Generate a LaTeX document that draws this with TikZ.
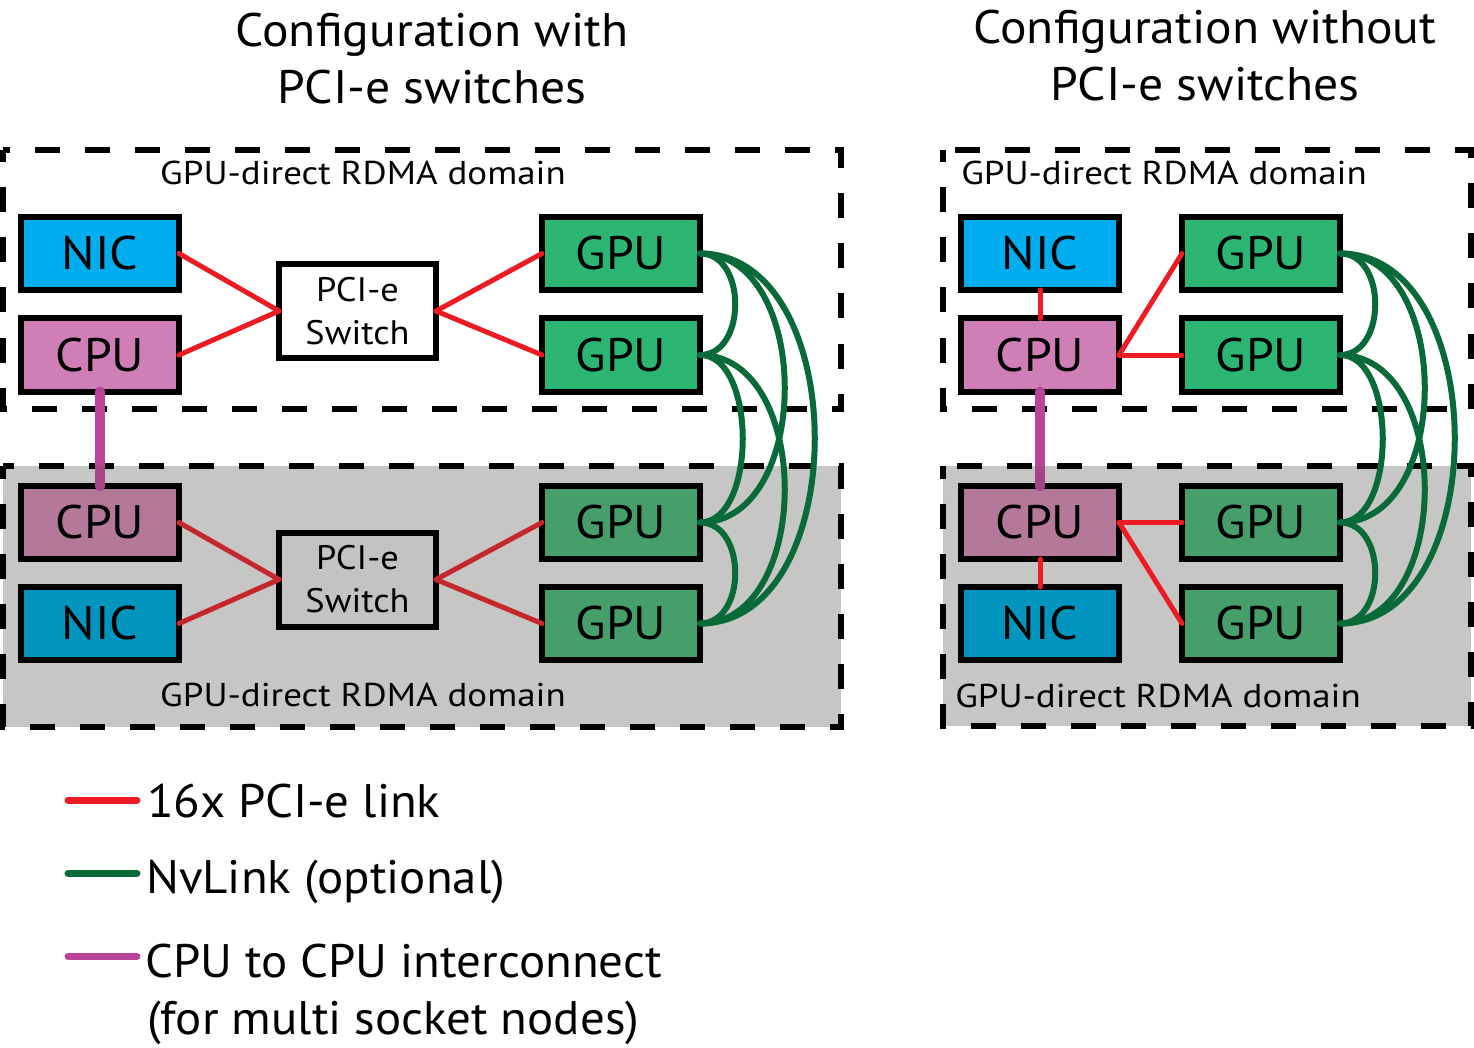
\documentclass[tikz,border=0pt]{standalone}
\usepackage{graphicx}
\usepackage{fontspec}
\setmainfont{PT Sans}
\definecolor{nicA}{HTML}{00AEEF}
\definecolor{nicB}{HTML}{0094BE}
\definecolor{cpuA}{HTML}{CF7FB5}
\definecolor{cpuB}{HTML}{B47898}
\definecolor{gpuA}{HTML}{2DB673}
\definecolor{gpuB}{HTML}{469E6B}
\definecolor{swB}{HTML}{C4C2C3}
\definecolor{grayfill}{HTML}{C6C6C5}
\definecolor{redA}{HTML}{ED1C24}
\definecolor{redB}{HTML}{C5272D}
\definecolor{nvgreen}{HTML}{076A38}
\definecolor{purpA}{HTML}{B9449A}
\definecolor{purpB}{HTML}{A8448A}
\newcommand{\hsc}[2]{\scalebox{#1}[1]{#2}}
\newcommand{\hwl}[1]{\hsc{1.06}{#1}}
\newcommand{\swl}[1]{\hsc{1.07}{#1}}
\newcommand{\dml}[1]{\hsc{1.12}{#1}}
\newcommand{\ttll}[1]{\hsc{1.055}{#1}}
\newcommand{\lgl}[1]{\hsc{1.04}{#1}}
\begin{document}
\begin{tikzpicture}[x=1pt,y=-1pt,
  hw/.style={draw=black, line width=6pt, minimum width=158pt, minimum height=73pt,
     inner sep=0pt, outer sep=0pt, font=\fontsize{47}{50}\selectfont},
  swbox/.style={draw=black, line width=6pt, minimum width=157pt, minimum height=94pt,
     inner sep=0pt, outer sep=0pt, align=center, font=\fontsize{34}{43}\selectfont},
  dombox/.style={draw=black, line width=6pt, dash pattern=on 25pt off 25pt, dash phase=12.5pt},
  domlabel/.style={anchor=base, inner sep=0pt, font=\fontsize{33}{36}\selectfont},
  ttl/.style={anchor=base, inner sep=0pt, font=\fontsize{47}{56}\selectfont},
  legtext/.style={anchor=base west, inner sep=0pt, font=\fontsize{47}{56}\selectfont},
  pcie/.style={line width=5pt, line cap=round},
  nvl/.style={draw=nvgreen, line width=6pt, line cap=round},
  cpul/.style={line width=10pt, line cap=round}]
\useasboundingbox (0,0) rectangle (1474,1048);

% titles
\node[ttl] (t1a) at (432,47) {\ttll{Configuration with}};
\node[ttl] (t1b) at (432,104) {\ttll{PCI-e switches}};
\node[ttl] (t2a) at (1205,44) {\ttll{Configuration without}};
\node[ttl] (t2b) at (1205,101) {\ttll{PCI-e switches}};

% domains
\fill[grayfill] (3,466) rectangle (841,727);
\fill[grayfill] (943,466) rectangle (1471,726);
\draw[dombox] (3,150) rectangle (841,409);
\draw[dombox] (3,466) rectangle (841,727);
\draw[dombox] (943,150) rectangle (1471,409);
\draw[dombox] (943,466) rectangle (1471,726);

\node[domlabel] (dl1) at (363,185) {\dml{GPU-direct RDMA domain}};
\node[domlabel] (dl2) at (363,706) {\dml{GPU-direct RDMA domain}};
\node[domlabel] (dl3) at (1164,185) {\dml{GPU-direct RDMA domain}};
\node[domlabel] (dl4) at (1158,707) {\dml{GPU-direct RDMA domain}};

% left configuration
\node[hw, fill=nicA] (lnicA) at (100,253.5) {\hwl{NIC}};
\node[hw, fill=cpuA] (lcpuA) at (100,355) {\hwl{CPU}};
\node[swbox, fill=white] (lswA) at (357.5,311) {\swl{PCI-e}\\\swl{Switch}};
\node[hw, fill=gpuA] (lg1) at (621,253.5) {\hwl{GPU}};
\node[hw, fill=gpuA] (lg2) at (621,355) {\hwl{GPU}};
\node[hw, fill=cpuB] (lcpuB) at (100,522.5) {\hwl{CPU}};
\node[hw, fill=nicB] (lnicB) at (100,623.5) {\hwl{NIC}};
\node[swbox, fill=swB] (lswB) at (357.5,579.5) {\swl{PCI-e}\\\swl{Switch}};
\node[hw, fill=gpuB] (lg3) at (621,522.5) {\hwl{GPU}};
\node[hw, fill=gpuB] (lg4) at (621,623.5) {\hwl{GPU}};

% right configuration
\node[hw, fill=nicA] (rnicA) at (1040,253.5) {\hwl{NIC}};
\node[hw, fill=cpuA] (rcpuA) at (1040,355) {\hwl{CPU}};
\node[hw, fill=gpuA] (rg1) at (1261,253.5) {\hwl{GPU}};
\node[hw, fill=gpuA] (rg2) at (1261,355) {\hwl{GPU}};
\node[hw, fill=cpuB] (rcpuB) at (1040,522.5) {\hwl{CPU}};
\node[hw, fill=nicB] (rnicB) at (1040,623.5) {\hwl{NIC}};
\node[hw, fill=gpuB] (rg3) at (1261,522.5) {\hwl{GPU}};
\node[hw, fill=gpuB] (rg4) at (1261,623.5) {\hwl{GPU}};

% PCI-e links
\draw[pcie, redA] (lnicA.east) -- (lswA.west);
\draw[pcie, redA] (lcpuA.east) -- (lswA.west);
\draw[pcie, redA] (lswA.east) -- (lg1.west);
\draw[pcie, redA] (lswA.east) -- (lg2.west);
\draw[pcie, redB] (lcpuB.east) -- (lswB.west);
\draw[pcie, redB] (lnicB.east) -- (lswB.west);
\draw[pcie, redB] (lswB.east) -- (lg3.west);
\draw[pcie, redB] (lswB.east) -- (lg4.west);

\draw[pcie, redA] (rnicA.south) -- (rcpuA.north);
\draw[pcie, redA] (rcpuA.east) -- (rg1.west);
\draw[pcie, redA] (rcpuA.east) -- (rg2.west);
\draw[pcie, redA] (rcpuB.south) -- (rnicB.north);
\draw[pcie, redA] (rcpuB.east) -- (rg3.west);
\draw[pcie, redA] (rcpuB.east) -- (rg4.west);

% CPU to CPU interconnect
\draw[cpul, purpA] (lcpuA.south) -- (lcpuB.north);
\draw[cpul, purpA] (rcpuA.south) -- (rcpuB.north);
\begin{scope}
  \clip (3,466) rectangle (841,727);
  \draw[cpul, purpB] (lcpuA.south) -- (lcpuB.north);
\end{scope}
\begin{scope}
  \clip (943,466) rectangle (1471,726);
  \draw[cpul, purpB] (rcpuA.south) -- (rcpuB.north);
\end{scope}

% NvLinks
\foreach \p in {l,r}{
  \draw[nvl] (\p g1.east) .. controls +(47,0) and +(47,0) .. (\p g2.east);
  \draw[nvl] (\p g3.east) .. controls +(47,0) and +(47,0) .. (\p g4.east);
  \draw[nvl] (\p g2.east) .. controls +(57,0) and +(57,0) .. (\p g3.east);
  \draw[nvl] (\p g1.east) .. controls +(113,0) and +(113,0) .. (\p g3.east);
  \draw[nvl] (\p g2.east) .. controls +(113,0) and +(113,0) .. (\p g4.east);
  \draw[nvl] (\p g1.east) .. controls +(153,0) and +(153,0) .. (\p g4.east);
}

% legend
\coordinate (lr1) at (68,800);  \coordinate (lr2) at (137,800);
\coordinate (lgr1) at (68,873); \coordinate (lgr2) at (137,873);
\coordinate (lp1) at (68,956);  \coordinate (lp2) at (137,956);
\draw[line width=7pt, line cap=round, redA] (lr1) -- (lr2);
\draw[line width=7pt, line cap=round, nvgreen] (lgr1) -- (lgr2);
\draw[line width=7pt, line cap=round, purpA] (lp1) -- (lp2);
\node[legtext] (leg1) at (147,817) {\lgl{16x PCI-e link}};
\node[legtext] (leg2) at (146,893) {\lgl{NvLink (optional)}};
\node[legtext] (leg3) at (145,977) {\lgl{CPU to CPU interconnect}};
\node[legtext] (leg4) at (147,1034) {\lgl{(for multi socket nodes)}};
\end{tikzpicture}
\end{document}
